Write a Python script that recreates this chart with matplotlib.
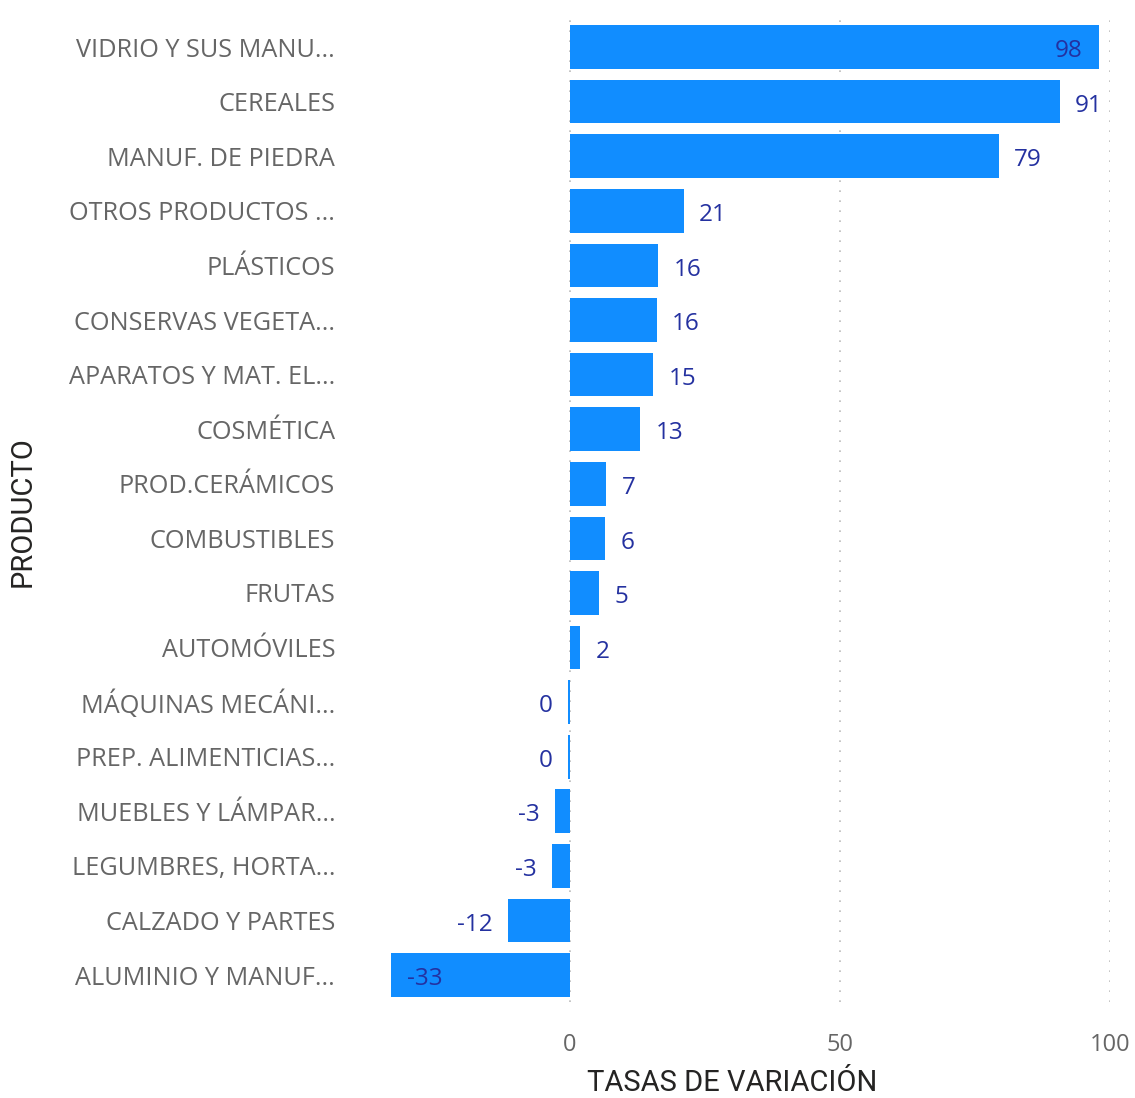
import matplotlib.pyplot as plt

productos = ["VIDRIO Y SUS MANU...", "CEREALES", "MANUF. DE PIEDRA", "OTROS PRODUCTOS ...",
             "PLÁSTICOS", "CONSERVAS VEGETA...", "APARATOS Y MAT. EL...", "COSMÉTICA",
             "PROD.CERÁMICOS", "COMBUSTIBLES", "FRUTAS", "AUTOMÓVILES",
             "MÁQUINAS MECÁNI...", "PREP. ALIMENTICIAS...", "MUEBLES Y LÁMPAR...",
             "LEGUMBRES, HORTA...", "CALZADO Y PARTES", "ALUMINIO Y MANUF..."]
tasas = [97.9, 90.7, 79.4, 21.1, 16.3, 16.1, 15.4, 13.0, 6.7, 6.5, 5.4, 1.9,
         -0.4, -0.4, -2.8, -3.3, -11.5, -33.2]

plt.rcParams['font.family'] = ['Open Sans', 'DejaVu Sans']

fig = plt.figure(figsize=(11.35, 10.98), dpi=100)
ax = fig.add_axes([0.3357, 0.0871, 0.978 - 0.3357, 0.982 - 0.0871])

y = list(range(len(productos)))
ax.barh(y, tasas, height=0.8, color='#118DFF', zorder=2)

ax.set_xlim(-35, 100)
ax.set_ylim(len(productos) - 0.5, -0.5)
ax.set_yticks(y)
ax.set_yticklabels(productos, fontsize=18.2, color='#666666')
ax.set_xticks([0, 50, 100])
ax.set_xticklabels(['0', '50', '100'], fontsize=17, color='#666666')
ax.tick_params(axis='y', length=0, pad=33)
ax.tick_params(axis='x', length=0, pad=22)

for s in ax.spines.values():
    s.set_visible(False)
ax.grid(axis='x', linestyle=(0, (1, 5)), color='#bbbbbb', linewidth=1.2, zorder=0)
ax.set_axisbelow(True)

lab_color = '#2431a0'
for i, v in enumerate(tasas):
    txt = str(int(round(v)))
    if txt == '-0':
        txt = '0'
    if v >= 95:
        off, ha = -12, 'right'
    elif v <= -30:
        off, ha = 12, 'left'
    elif v >= 0:
        off, ha = 11, 'left'
    else:
        off, ha = -11, 'right'
    ax.annotate(txt, (v, i), xytext=(off, -3), textcoords='offset points',
                ha=ha, va='center', fontsize=17.5, color=lab_color)

ax.set_xlabel('TASAS DE VARIACIÓN', fontsize=21, color='#252423',
              family=['Roboto', 'DejaVu Sans'])
ax.xaxis.set_label_coords(0.4815, -0.068)
ax.set_ylabel('PRODUCTO', fontsize=21, color='#252423',
              family=['Roboto', 'DejaVu Sans'])
ax.yaxis.set_label_coords(-0.472, 0.5)

fig.savefig('out.png', dpi=100)
